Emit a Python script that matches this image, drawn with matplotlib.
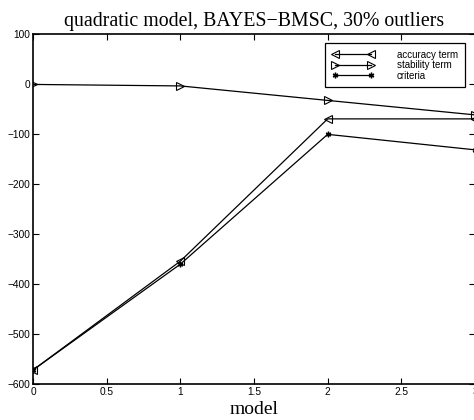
import matplotlib
matplotlib.use("Agg")
import matplotlib.pyplot as plt

models = [0, 1, 2, 3]
accuracy = [-572, -354, -69, -69]
stability = [0, -3, -32, -61]
criteria = [-572, -360, -100, -131]

xticks = [0, 0.5, 1, 1.5, 2, 2.5, 3]
yticks = [-600, -500, -400, -300, -200, -100, 0, 100]

sans = ["Liberation Sans", "DejaVu Sans"]
serif = ["Liberation Serif", "DejaVu Serif"]

fig = plt.figure(figsize=(4.74, 4.2), dpi=100)
ax = fig.add_axes([33 / 474, 36 / 420, 442 / 474, 349.5 / 420])

lw = 0.9
ax.plot(models, accuracy, color="black", lw=lw, marker="<", ms=5.5,
        mfc="none", mec="black", mew=0.8, label="accuracy term")
ax.plot(models, stability, color="black", lw=lw, marker=">", ms=5.5,
        mfc="none", mec="black", mew=0.8, label="stability term")
ax.plot(models, criteria, color="black", lw=lw, marker=(6, 2, 0), ms=4,
        mec="black", mew=1.0, label="criteria")

ax.set_xlim(0, 3)
ax.set_ylim(-600, 100)
ax.set_xticks(xticks)
ax.set_xticklabels([f"{t:g}" for t in xticks])
ax.set_yticks(yticks)
ax.set_yticklabels([f"{t:d}".replace("-", "\u2212") for t in yticks])
ax.tick_params(direction="in", top=True, right=True, length=4, width=0.8,
               labelsize=7.3, pad=2, colors="black")
for lbl in ax.get_xticklabels() + ax.get_yticklabels():
    lbl.set_family(sans)
for sp in ax.spines.values():
    sp.set_linewidth(1.2)

ax.set_title("quadratic model, BAYES\u2212BMSC, 30% outliers",
             family=serif, fontsize=14.3, pad=6)
ax.set_xlabel("model", family=serif, fontsize=14, labelpad=3)

leg = ax.legend(loc="upper right", bbox_to_anchor=(0.977, 0.976),
                borderaxespad=0, numpoints=2, handlelength=4.3,
                handletextpad=2.4, labelspacing=0.05, borderpad=0.7,
                fancybox=False, framealpha=1, edgecolor="black",
                prop={"family": sans, "size": 7})
leg.get_frame().set_linewidth(0.9)

fig.savefig("out.png", dpi=100)
